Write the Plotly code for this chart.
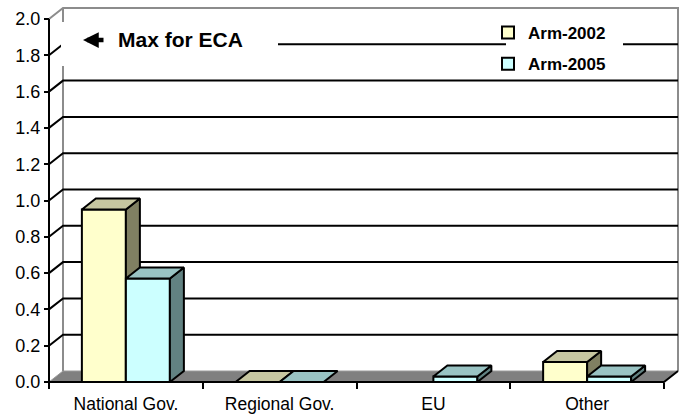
import plotly.graph_objects as go

# ---- data -------------------------------------------------------------
categories = ["National Gov.", "Regional Gov.", "EU", "Other"]
series_names = ["Arm-2002", "Arm-2005"]
arm_2002 = [0.95, 0.0, None, 0.11]
arm_2005 = [0.57, 0.0, 0.03, 0.03]
y_ticks = [0.0, 0.2, 0.4, 0.6, 0.8, 1.0, 1.2, 1.4, 1.6, 1.8, 2.0]
y_tick_labels = ["0.0", "0.2", "0.4", "0.6", "0.8", "1.0", "1.2", "1.4", "1.6", "1.8", "2.0"]
note_text = "Max for ECA"

# ---- styling ----------------------------------------------------------
FONT = "Liberation Sans, Arial, Helvetica, sans-serif"
FRONT = ["#FFFFCC", "#CCFFFF"]
TOP = ["#C6C6A0", "#99C3C3"]
SIDE = ["#808062", "#628282"]
FLOOR = "#808080"
WALL = "#8C8C8C"

W, H = 689, 415
X0_PX, XN_PX = 49, 664      # front edge of the category axis
Y0_PX, YT_PX = 382, 19      # front value axis: 0 and top tick
DX_PX, DY_PX = 14, 11       # depth of the 3-D box
BAR_PX = 44                 # bar width

n = len(categories)
top_val = y_ticks[-1]
sx = (XN_PX - X0_PX) / n
sy = (Y0_PX - YT_PX) / top_val
DX = DX_PX / sx
DY = DY_PX / sy
XMIN, XMAX = -X0_PX / sx, (W - X0_PX) / sx
YMIN, YMAX = -(H - Y0_PX) / sy, Y0_PX / sy
BW = BAR_PX / sx
offsets = [0.5 - BW, 0.5]

fig = go.Figure()


def line_trace(xs, ys, color, width=2, axes=("x", "y")):
    return go.Scatter(x=xs, y=ys, mode="lines", line=dict(color=color, width=width),
                      hoverinfo="skip", showlegend=False, xaxis=axes[0], yaxis=axes[1])


# floor
fig.add_trace(go.Scatter(x=[0, n, n + DX, DX, 0], y=[0, 0, DY, DY, 0], mode="lines",
                         fill="toself", fillcolor=FLOOR, line=dict(color="#9A9A9A", width=1),
                         hoverinfo="skip", showlegend=False))
# back wall frame
fig.add_trace(line_trace([0, DX, n + DX, n + DX, None, DX, DX],
                         [top_val, top_val + DY, top_val + DY, DY, None, DY, top_val + DY], WALL))
# gridlines on the back wall with their depth connectors
gx, gy = [], []
for v in y_ticks[1:-1]:
    gx += [0, DX, n + DX, None]
    gy += [v, v + DY, v + DY, None]
fig.add_trace(line_trace(gx, gy, "black"))
# front edges of the floor and value axis
fig.add_trace(line_trace([0, 0, n, n + DX], [top_val, 0, 0, DY], "black"))

# bars, one overlaid subplot per series so later series sit in front
for s, vals in enumerate([arm_2002, arm_2005]):
    xa, ya = "x%d" % (s + 2), "y%d" % (s + 2)
    centers = [i + offsets[s] + BW / 2 for i in range(n)]
    fig.add_trace(go.Bar(x=centers, y=vals, width=BW, base=0, name=series_names[s],
                         marker=dict(color=FRONT[s], line=dict(color="black", width=2)),
                         legendgroup=series_names[s], xaxis=xa, yaxis=ya, hoverinfo="skip"))
    sxs, sys_, txs, tys = [], [], [], []
    for i, v in enumerate(vals):
        if v is None:
            continue
        x0 = i + offsets[s]
        x1 = x0 + BW
        if v > 0:
            sxs += [x1, x1 + DX, x1 + DX, x1, x1, None]
            sys_ += [0, DY, v + DY, v, 0, None]
        txs += [x0, x1, x1 + DX, x0 + DX, x0, None]
        tys += [v, v, v + DY, v + DY, v, None]
    fig.add_trace(go.Scatter(x=sxs, y=sys_, mode="lines", fill="toself", fillcolor=SIDE[s],
                             line=dict(color="black", width=2), hoverinfo="skip",
                             showlegend=False, xaxis=xa, yaxis=ya))
    fig.add_trace(go.Scatter(x=txs, y=tys, mode="lines", fill="toself", fillcolor=TOP[s],
                             line=dict(color="black", width=2), hoverinfo="skip",
                             showlegend=False, xaxis=xa, yaxis=ya))

overlay_x = dict(range=[XMIN, XMAX], overlaying="x", visible=False, fixedrange=True)
overlay_y = dict(range=[YMIN, YMAX], overlaying="y", visible=False, fixedrange=True)


def white_box(x0, x1, y0, y1):
    return dict(type="rect", xref="paper", yref="paper", layer="above",
                x0=x0 / W, x1=x1 / W, y0=1 - y1 / H, y1=1 - y0 / H,
                fillcolor="white", line=dict(width=0))


fig.update_layout(
    width=W, height=H,
    margin=dict(l=0, r=0, t=0, b=0, pad=0),
    paper_bgcolor="white", plot_bgcolor="white",
    barmode="overlay",
    font=dict(family=FONT, color="black"),
    xaxis=dict(range=[XMIN, XMAX], anchor="free", position=(0 - YMIN) / (YMAX - YMIN),
               tickmode="array", tickvals=[i + 0.5 for i in range(n)], ticktext=categories,
               ticks="", showgrid=False, zeroline=False, showline=False, fixedrange=True,
               tickfont=dict(size=17.5), ticklabelstandoff=9,
               minor=dict(tickmode="array", tickvals=list(range(n + 1)), ticks="outside",
                          ticklen=6, tickwidth=2, tickcolor="black", showgrid=False)),
    yaxis=dict(range=[YMIN, YMAX], anchor="free", position=(0 - XMIN) / (XMAX - XMIN),
               tickmode="array", tickvals=y_ticks, ticktext=y_tick_labels,
               ticks="outside", ticklen=5, tickwidth=2, tickcolor="black",
               showgrid=False, zeroline=False, showline=False, fixedrange=True,
               tickfont=dict(size=18)),
    xaxis2=dict(overlay_x, anchor="y2"), yaxis2=dict(overlay_y, anchor="x2"),
    xaxis3=dict(overlay_x, anchor="y3"), yaxis3=dict(overlay_y, anchor="x3"),
    legend=dict(x=488 / W, y=1 - 15 / H, xanchor="left", yanchor="top",
                bgcolor="rgba(0,0,0,0)", borderwidth=0, traceorder="grouped",
                font=dict(size=17, weight="bold"), tracegroupgap=6),
    shapes=[white_box(61, 278, 22, 66), white_box(506, 623, 22, 66)],
    annotations=[
        # arrow pointing back at the value axis
        dict(text=" ", xref="paper", yref="paper", x=83 / W, y=1 - 40 / H,
             ax=21, ay=0, axref="pixel", ayref="pixel", showarrow=True,
             font=dict(size=1), borderpad=0,
             arrowhead=2, arrowsize=0.7, arrowwidth=4.5, arrowcolor="black", standoff=0),
        dict(text="<b>%s</b>" % note_text, xref="paper", yref="paper", x=116 / W, y=1 - 40 / H,
             showarrow=False, font=dict(size=21), xanchor="left", yanchor="middle"),
    ],
)

fig.write_html("out.html")
